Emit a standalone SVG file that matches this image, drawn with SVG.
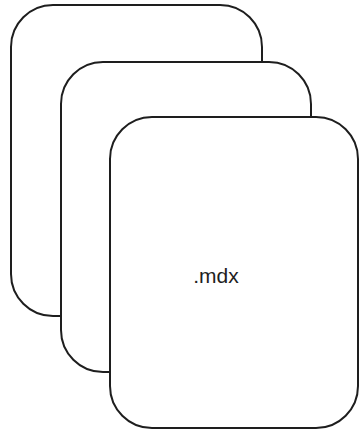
<svg xmlns="http://www.w3.org/2000/svg" width="362" height="433" viewBox="0 0 362 433">
<style>
.card{fill:#ffffff;stroke:#1e1e1e;stroke-width:2;}
.lbl{font-family:"Liberation Sans",Arial,sans-serif;font-size:21px;fill:#1e1e1e;text-anchor:middle;}
</style>
<rect width="362" height="433" fill="#ffffff"/>
<g id="card-back"><rect class="card" x="11" y="5" width="251" height="311" rx="42" ry="42"/></g>
<g id="card-middle"><rect class="card" x="61" y="62" width="250" height="310" rx="42" ry="42"/></g>
<g id="card-front"><rect class="card" x="110" y="117" width="248" height="311" rx="42" ry="42"/>
<text class="lbl" x="216" y="283">.mdx</text></g>
<g id="connectors"/>
</svg>
